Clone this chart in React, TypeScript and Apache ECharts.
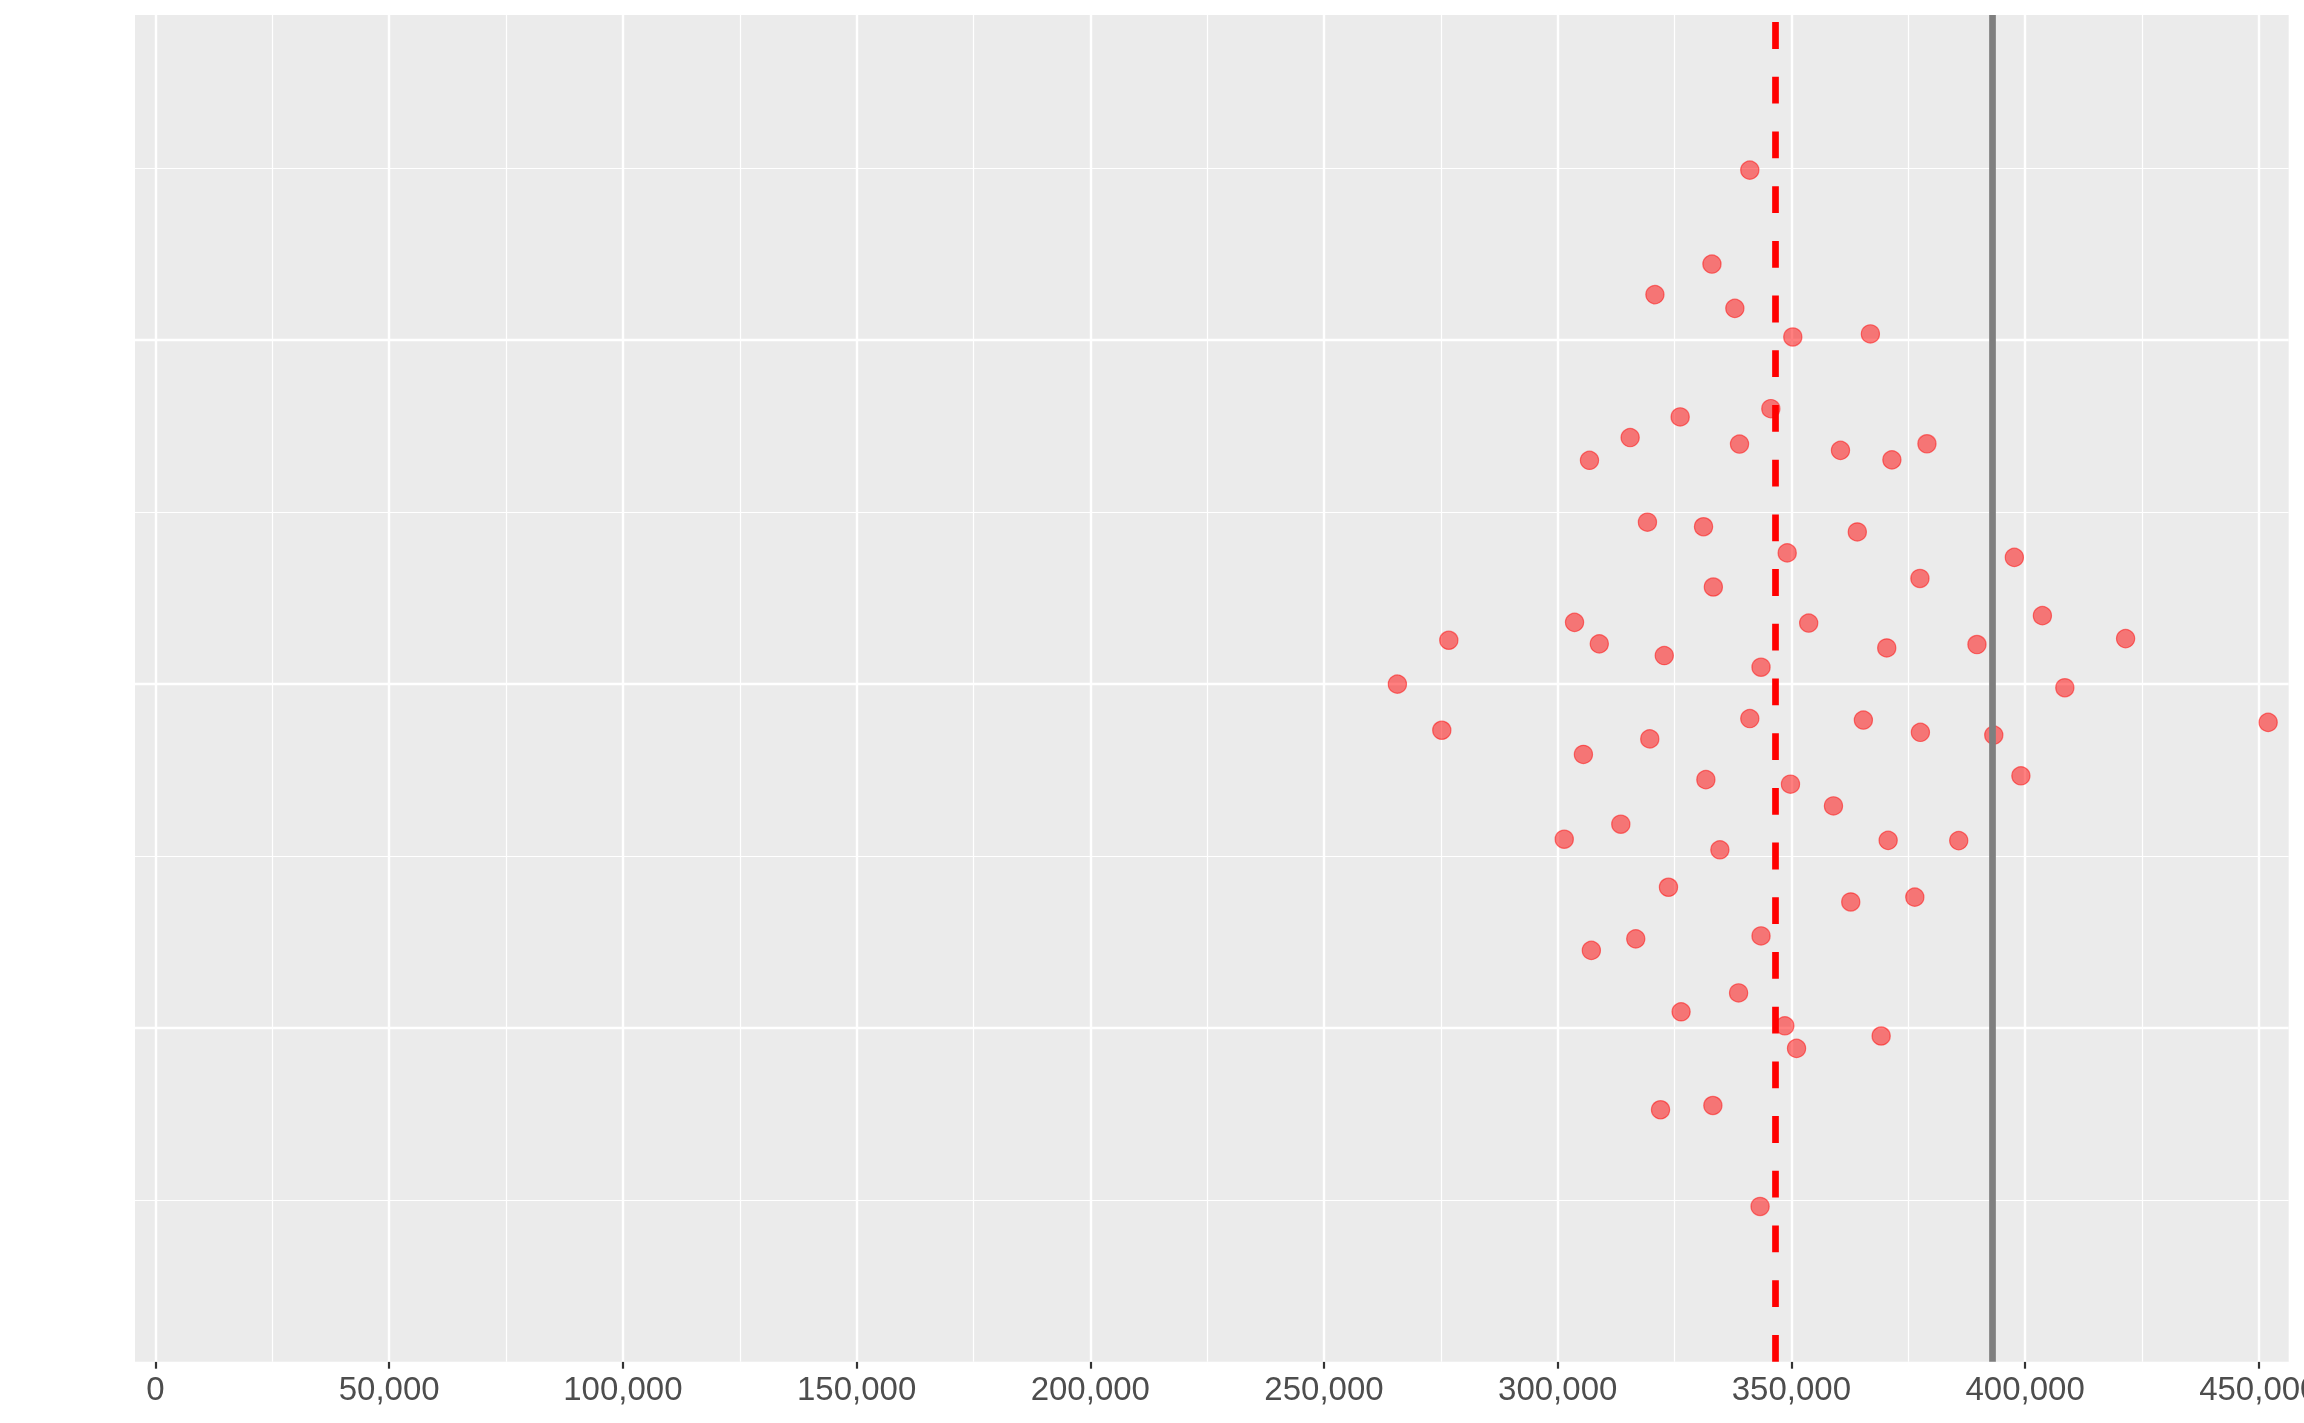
import { useEffect, useRef } from "react";
import * as echarts from "echarts";

// Observed values (x) and their vertical jitter positions (y)
const incomeValues = [
  341100, 333000, 320800, 337900, 350300, 345600, 326200, 315500, 338900, 306800,
  319200, 331200, 349100, 333300, 303600, 353700, 276700, 308900, 322800, 343500,
  265700,
  366900, 360500, 371500, 379000, 364100, 377500, 397700, 403700, 421500, 370400,
  389700,
  275200, 305500, 319700, 341100, 331700, 349800, 301400, 313500, 334700, 323700,
  307200, 316700, 343500, 338700, 326400, 348600, 351100, 322000, 333200, 343300,
  408500, 365400, 377600, 393300, 452000, 399100, 359000, 370700, 385800, 362700,
  376400, 369200,
];
const jitterPositions = [
  1.3735, 1.3052, 1.283, 1.273, 1.2522, 1.2001, 1.1941, 1.1791, 1.1744, 1.1626,
  1.1176, 1.1143, 1.0953, 1.0705, 1.0448, 1.0443, 1.0318, 1.0292, 1.0207, 1.0122,
  0.9999,
  1.2544, 1.1698, 1.1629, 1.1746, 1.1105, 1.0767, 1.092, 1.0497, 1.033, 1.0262,
  1.0287,
  0.9664, 0.9488, 0.9601, 0.9749, 0.9305, 0.9272, 0.8872, 0.8981, 0.8795, 0.8523,
  0.8064, 0.8148, 0.8169, 0.7755, 0.7618, 0.7516, 0.7352, 0.6906, 0.6937, 0.6203,
  0.9973, 0.9738, 0.9649, 0.9629, 0.9721, 0.9333, 0.9114, 0.8864, 0.8862, 0.8416,
  0.8451, 0.7442,
];

const xTickValues = [0, 50000, 100000, 150000, 200000, 250000, 300000, 350000, 400000, 450000];
const xTickLabels = ["0", "50,000", "100,000", "150,000", "200,000", "250,000", "300,000", "350,000", "400,000", "450,000"];
const xMinorGrid = [25000, 75000, 125000, 175000, 225000, 275000, 325000, 375000, 425000];
const yMajorGrid = [0.75, 1, 1.25];
const yMinorGrid = [0.625, 0.875, 1.125, 1.375];

const referenceValue = 392900;
const meanValue = incomeValues.reduce((a, b) => a + b, 0) / incomeValues.length;

const X_MIN = -4386;
const X_MAX = 456397;
const Y_MIN = 0.5075;
const Y_MAX = 1.4862;

function vLine(v: number, width: number, color: string, type: any = "solid") {
  return [
    { coord: [v, Y_MIN], lineStyle: { width, color, type, opacity: 1 } },
    { coord: [v, Y_MAX] },
  ];
}
function hLine(v: number, width: number, color: string) {
  return [
    { coord: [X_MIN, v], lineStyle: { width, color, type: "solid", opacity: 1 } },
    { coord: [X_MAX, v] },
  ];
}

export default function App() {
  const ref = useRef<HTMLDivElement>(null);
  useEffect(() => {
    if (!ref.current) return;
    const chart = echarts.init(ref.current, null, { renderer: "svg" });
    const gridLines = [
      ...xMinorGrid.map((v) => vLine(v, 1.2, "#FFFFFF")),
      ...yMinorGrid.map((v) => hLine(v, 1.2, "#FFFFFF")),
      ...xTickValues.map((v) => vLine(v, 2.4, "#FFFFFF")),
      ...yMajorGrid.map((v) => hLine(v, 2.4, "#FFFFFF")),
    ];
    chart.setOption({
      animation: false,
      grid: {
        left: 135,
        right: 15.3,
        top: 15,
        bottom: 61.3,
        show: true,
        backgroundColor: "#EBEBEB",
        borderWidth: 0,
        containLabel: false,
        outerBoundsMode: "none",
      },
      xAxis: {
        type: "value",
        min: X_MIN,
        max: X_MAX,
        splitNumber: 9,
        splitLine: { show: false },
        minorSplitLine: { show: false },
        axisLine: { show: false },
        axisTick: {
          show: true,
          customValues: xTickValues,
          length: 7,
          lineStyle: { color: "#333333", width: 2.2 },
        },
        axisLabel: {
          customValues: xTickValues,
          showMinLabel: true,
          showMaxLabel: true,
          hideOverlap: false,
          formatter: (v: number) => {
            const i = xTickValues.indexOf(v);
            return i >= 0 ? xTickLabels[i] : "";
          },
          color: "#4D4D4D",
          fontSize: 33,
          margin: 10,
          fontFamily: "'Liberation Sans', Arial, sans-serif",
        },
      },
      yAxis: {
        type: "value",
        min: Y_MIN,
        max: Y_MAX,
        show: false,
        splitLine: { show: false },
      },
      series: [
        {
          type: "line",
          data: [],
          z: 1,
          silent: true,
          markLine: {
            z: 1,
            silent: true,
            animation: false,
            symbol: ["none", "none"],
            label: { show: false },
            emphasis: { disabled: true },
            data: gridLines,
          },
        },
        {
          type: "scatter",
          z: 3,
          symbol: "circle",
          symbolSize: 18.2,
          itemStyle: {
            color: "rgba(255,0,0,0.5)",
            borderColor: "rgba(255,0,0,0.5)",
            borderWidth: 1.2,
            opacity: 1,
          },
          data: incomeValues.map((v, i) => [v, jitterPositions[i]]),
        },
        {
          type: "line",
          data: [],
          z: 5,
          silent: true,
          markLine: {
            z: 5,
            silent: true,
            animation: false,
            symbol: ["none", "none"],
            label: { show: false },
            emphasis: { disabled: true },
            data: [
              vLine(meanValue, 6.7, "#FF0000", [26.8, 27.9]),
              vLine(referenceValue, 6.7, "#7F7F7F"),
            ],
          },
        },
      ],
    });
    return () => chart.dispose();
  }, []);
  return (
    <div
      ref={ref}
      style={{ position: "fixed", left: 0, top: 0, width: 2304, height: 1423 }}
    />
  );
}
